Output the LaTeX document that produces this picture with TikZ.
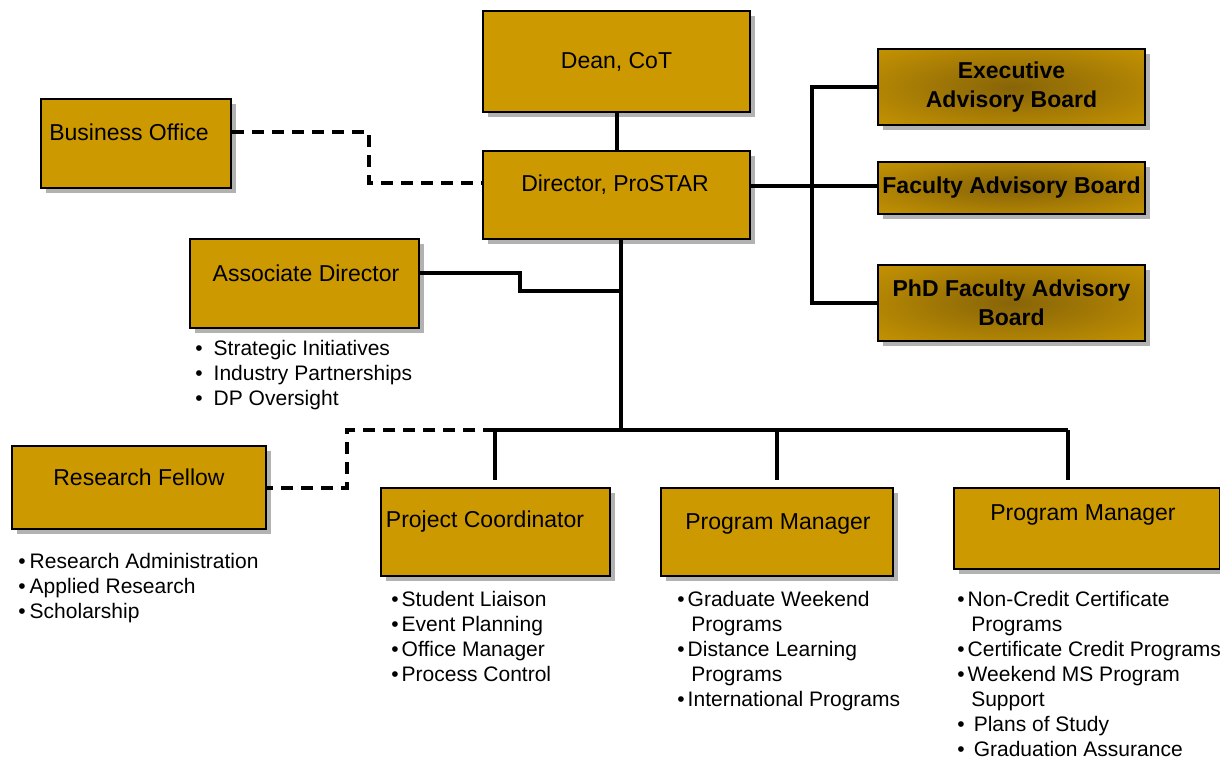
\documentclass[tikz,border=0pt]{standalone}
\usepackage{fontspec}
\setmainfont{Liberation Sans}
\usetikzlibrary{shadows}

\definecolor{gold}{RGB}{204,153,0}
\definecolor{boardmid}{RGB}{135,100,8}
\definecolor{boardedge}{RGB}{214,160,0}
\pgfdeclareradialshading{boardglow}{\pgfpoint{0bp}{0bp}}{color(0bp)=(boardmid); color(46bp)=(boardedge); color(50bp)=(boardedge)}

\begin{document}
\begin{tikzpicture}[x=0.5pt, y=-0.5pt,
	box/.style={draw=black, line width=1pt, fill=gold, anchor=north west, inner sep=0pt,
		drop shadow={shadow xshift=2.5pt, shadow yshift=-2.5pt, fill=black, opacity=0.3}},
	board/.style={box, shading=boardglow, align=center, font=\fontsize{11.5}{14.5}\selectfont\bfseries},
	boxtxt/.style={anchor=base, inner sep=0pt, font=\fontsize{11.5}{14}\selectfont},
	duties/.style={anchor=base west, inner sep=0pt, font=\fontsize{10.5}{12.5}\selectfont},
	link/.style={line width=2pt},
	dashlink/.style={link, dash pattern=on 6pt off 4pt}]

	\useasboundingbox (0,0) rectangle (1220,761);

	% top of the chart
	\node[box, minimum width=133.5pt, minimum height=50.5pt, font=\fontsize{11.5}{14}\selectfont] (dean) at (482,10) {Dean, CoT};
	\node[box, minimum width=133.5pt, minimum height=44pt] (dir) at (482,150) {};
	\node[boxtxt] (dirtxt) at (615,191.5) {Director, ProSTAR};

	\node[box, minimum width=95pt, minimum height=44.5pt] (biz) at (40,98) {};
	\node[boxtxt] (biztxt) at (129,140.5) {Business Office};

	\node[box, minimum width=114.5pt, minimum height=44.5pt] (assoc) at (189,238) {};
	\node[boxtxt] (assoctxt) at (306,281.5) {Associate Director};

	% advisory boards
	\node[board, minimum width=133.5pt, minimum height=38pt] (exec) at (877,48) {Executive\\Advisory Board};
	\node[board, minimum width=133.5pt, minimum height=26pt] (fac) at (877,161) {Faculty Advisory Board};
	\node[board, minimum width=133.5pt, minimum height=38pt] (phd) at (877,264) {PhD Faculty Advisory\\Board};

	% staff row
	\node[box, minimum width=127pt, minimum height=41.5pt] (rf) at (11,445) {};
	\node[boxtxt] (rftxt) at (139,485) {Research Fellow};

	\node[box, minimum width=114.5pt, minimum height=44pt] (pc) at (380,487) {};
	\node[boxtxt] (pctxt) at (485,527) {Project Coordinator};

	\node[box, minimum width=116pt, minimum height=44pt] (pm1) at (660,487) {};
	\node[boxtxt] (pm1txt) at (778,529) {Program Manager};

	\node[box, minimum width=133pt, minimum height=40.5pt] (pm2) at (953,487) {};
	\node[boxtxt] (pm2txt) at (1083,520) {Program Manager};

	% duty lists
	\node[duties] (assocduty) at (195,355) {\begin{tabular}[t]{@{}l@{\hspace{5.5pt}}l@{}}
		•&Strategic Initiatives\\ •&Industry Partnerships\\ •&DP Oversight\end{tabular}};
	\node[duties] (rfduty) at (18,568) {\begin{tabular}[t]{@{}l@{\hspace{2pt}}l@{}}
		•&Research Administration\\ •&Applied Research\\ •&Scholarship\end{tabular}};
	\node[duties] (pcduty) at (391,606) {\begin{tabular}[t]{@{}l@{\hspace{1.5pt}}l@{}}
		•&Student Liaison\\ •&Event Planning\\ •&Office Manager\\ •&Process Control\end{tabular}};
	\node[duties] (pm1duty) at (677,606) {\begin{tabular}[t]{@{}l@{\hspace{1.5pt}}l@{}}
		•&Graduate Weekend\\ &\,Programs\\ •&Distance Learning\\ &\,Programs\\ •&International Programs\end{tabular}};
	\node[duties] (pm2duty) at (957,606) {\begin{tabular}[t]{@{}l@{\hspace{1.5pt}}l@{}}
		•&Non-Credit Certificate\\ &\,Programs\\ •&Certificate Credit Programs\\ •&Weekend MS Program\\ &\,Support\\
		•&\hspace{3pt}Plans of Study\\ •&\hspace{3pt}Graduation Assurance\end{tabular}};

	% junction points
	\coordinate (bj) at (812,186);
	\coordinate (bturn) at (369,183);
	\coordinate (hub) at (621,430);
	\coordinate (aj) at (520,291);
	\coordinate (busL) at (495,430);
	\coordinate (busR) at (1068,430);
	\coordinate (rturn) at (347,430);

	% reporting lines
	\draw[link] (dean) -- (dir);
	\draw[link] (dir.south -| hub) -- (hub);
	\draw[link] (assoc.east |- assoctxt) -| (aj) -- (aj -| hub);
	\draw[link] (dir.east |- bj) -- (bj);
	\draw[link] (exec.west) -| (bj) |- (phd.west);
	\draw[link] (bj) -- (fac.west |- bj);
	\draw[dashlink] (biz.east |- biztxt) -| (bturn) -- (dir.west |- bturn);

	% staff bus
	\draw[link] (busL) -- (busR);
	\draw[link, shorten >=3.5pt] (busL) -- (busL |- pc.north);
	\draw[link, shorten >=3.5pt] (hub -| pm1.north) -- (pm1.north);
	\draw[link, shorten >=3.5pt] (busR) -- (busR |- pm2.north);
	\draw[dashlink] (busL) -- (rturn) |- (rf.east);
\end{tikzpicture}
\end{document}
